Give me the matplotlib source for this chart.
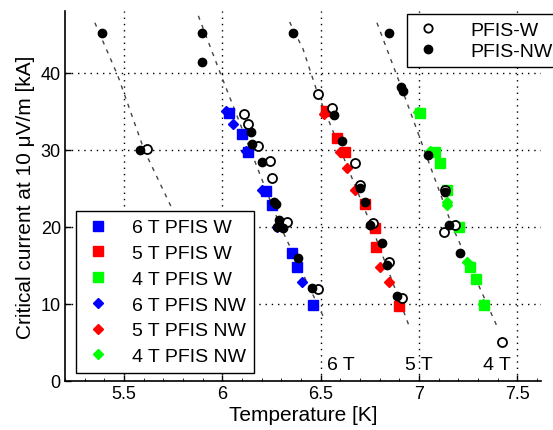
import matplotlib
matplotlib.use('Agg')
import matplotlib.pyplot as plt
from matplotlib.ticker import AutoMinorLocator
from matplotlib.lines import Line2D

plt.rcParams['font.family'] = ['Liberation Sans', 'DejaVu Sans']

# fit curves (dashed), one per field
fit7_T = [5.352, 5.469, 5.602, 5.74]
fit7_I = [46.5, 39.6, 30.0, 22.6]
fit6_T = [5.878, 5.995, 6.296, 6.52]
fit6_I = [47.4, 39.6, 20.0, 8.0]
fit5_T = [6.342, 6.41, 6.485, 6.76, 6.95]
fit5_I = [46.6, 43.1, 37.3, 20.0, 7.1]
fit4_T = [6.786, 6.913, 7.17, 7.398]
fit4_I = [46.5, 37.9, 20.0, 7.0]

# coloured squares (PFIS W) and diamonds (PFIS NW)
w6_T = [6.036, 6.10, 6.128, 6.22, 6.25, 6.352, 6.378, 6.46]
w6_I = [34.8, 32.1, 29.7, 24.6, 22.8, 16.6, 14.8, 9.9]
nw6_T = [6.02, 6.056, 6.12, 6.204, 6.28, 6.30, 6.403]
nw6_I = [35.0, 33.4, 29.8, 24.8, 20.0, 20.2, 12.9]

w5_T = [6.525, 6.582, 6.622, 6.724, 6.775, 6.78, 6.898]
w5_I = [35.0, 31.5, 29.7, 23.0, 19.8, 17.4, 9.7]
nw5_T = [6.515, 6.597, 6.633, 6.673, 6.76, 6.80, 6.847]
nw5_I = [34.7, 29.7, 27.7, 24.8, 20.0, 14.8, 12.8]

w4_T = [7.005, 7.08, 7.107, 7.143, 7.204, 7.26, 7.29, 7.332]
w4_I = [34.8, 29.7, 28.3, 24.8, 20.0, 14.8, 13.3, 9.9]
nw4_T = [6.995, 7.056, 7.143, 7.143, 7.19, 7.245, 7.325]
nw4_I = [34.9, 29.9, 23.2, 22.8, 20.2, 15.5, 10.0]

# black circles
open_T = [5.617, 6.112, 6.128, 6.18, 6.24, 6.25, 6.33, 6.485,
          6.485, 6.556, 6.673, 6.699, 6.765, 6.847, 6.913,
          7.133, 7.184, 7.128, 7.423]
open_I = [30.1, 34.7, 33.3, 30.5, 28.6, 26.3, 20.6, 12.0,
          37.3, 35.4, 28.3, 25.4, 20.5, 15.5, 10.8,
          24.8, 20.3, 19.4, 5.0]
fill_T = [5.388, 5.58, 5.898, 5.898, 6.148, 6.153, 6.204, 6.265, 6.275,
          6.29, 6.28, 6.31, 6.383, 6.454,
          6.357, 6.566, 6.61, 6.699, 6.724, 6.75, 6.81, 6.837, 6.888,
          6.847, 6.91, 6.917, 7.046, 7.133, 7.153, 7.209]
fill_I = [45.2, 30.0, 45.2, 41.4, 32.3, 30.8, 28.4, 23.2, 23.0,
          20.9, 20.0, 19.9, 16.0, 12.1,
          45.2, 34.5, 31.2, 25.0, 23.2, 20.3, 17.9, 15.1, 11.0,
          45.2, 38.2, 37.6, 29.3, 24.5, 20.3, 16.6]

field_labels = ['6 T', '5 T', '4 T']
field_label_T = [6.675, 7.07, 7.465]

fig = plt.figure(figsize=(5.53, 4.31), dpi=100)
ax = fig.add_axes([0.1175, 0.1137, 0.8608, 0.858])

dash = dict(color='#444444', lw=1.0, dashes=(3, 4))
for t, i in [(fit7_T, fit7_I), (fit6_T, fit6_I), (fit5_T, fit5_I), (fit4_T, fit4_I)]:
    ax.plot(t, i, **dash)

blue, red, green = '#0000ff', '#ff0000', '#00ff00'
ax.plot(w6_T, w6_I, 's', color=blue, ms=7, ls='none')
ax.plot(w5_T, w5_I, 's', color=red, ms=7, ls='none')
ax.plot(w4_T, w4_I, 's', color=green, ms=7, ls='none')
ax.plot(nw6_T, nw6_I, 'D', color=blue, ms=5.5, ls='none')
ax.plot(nw5_T, nw5_I, 'D', color=red, ms=5.5, ls='none')
ax.plot(nw4_T, nw4_I, 'D', color=green, ms=5.5, ls='none')
ax.plot(open_T, open_I, 'o', mfc='white', mec='black', mew=1.3, ms=6.5, ls='none')
ax.plot(fill_T, fill_I, 'o', color='black', ms=6, ls='none')

for lab, t in zip(field_labels, field_label_T):
    ax.text(t, 2.2, lab, fontsize=14, ha='right', va='center')

ax.set_xlim(5.2, 7.62)
ax.set_ylim(0, 48)
ax.set_xticks([5.5, 6, 6.5, 7, 7.5])
ax.set_xticklabels(['5.5', '6', '6.5', '7', '7.5'])
ax.set_yticks([0, 10, 20, 30, 40])
ax.xaxis.set_minor_locator(AutoMinorLocator(5))
ax.tick_params(direction='in', labelsize=13, length=4, width=1, pad=3)
ax.tick_params(which='minor', direction='in', length=2)
ax.grid(True, color='black', lw=1, ls=(0, (1, 3.5)))
ax.spines['top'].set_visible(False)
ax.spines['right'].set_visible(False)
ax.spines['left'].set_linewidth(1.2)
ax.spines['bottom'].set_linewidth(1.2)

ax.set_xlabel('Temperature [K]', fontsize=15, labelpad=2)
ax.set_ylabel('Critical current at 10 μV/m [kA]', fontsize=15, labelpad=4)

h1 = [Line2D([], [], marker='s', color=c, ms=7, ls='none') for c in (blue, red, green)]
h1 += [Line2D([], [], marker='D', color=c, ms=5.5, ls='none') for c in (blue, red, green)]
lab1 = ['6 T PFIS W', '5 T PFIS W', '4 T PFIS W',
        '6 T PFIS NW', '5 T PFIS NW', '4 T PFIS NW']
leg1 = ax.legend(h1, lab1, loc='lower left', bbox_to_anchor=(0.1374, 0.1323),
                 bbox_transform=fig.transFigure, fontsize=14, fancybox=False,
                 edgecolor='black', framealpha=1, handlelength=1.5,
                 handletextpad=1.0, labelspacing=0.42, borderpad=0.4,
                 borderaxespad=0)
leg1.get_frame().set_linewidth(1)
ax.add_artist(leg1)

h2 = [Line2D([], [], marker='o', mfc='white', mec='black', mew=1.3, ms=6, ls='none'),
      Line2D([], [], marker='o', color='black', ms=6, ls='none')]
leg2 = ax.legend(h2, ['PFIS-W', 'PFIS-NW'], loc='upper left',
                 bbox_to_anchor=(0.736, 0.965), bbox_transform=fig.transFigure,
                 fontsize=14, fancybox=False, edgecolor='black', framealpha=1,
                 handlelength=1.5, handletextpad=1.4, labelspacing=0.2,
                 borderpad=0.35, borderaxespad=0)
leg2.get_frame().set_linewidth(1)

fig.savefig('out.png', dpi=100)
